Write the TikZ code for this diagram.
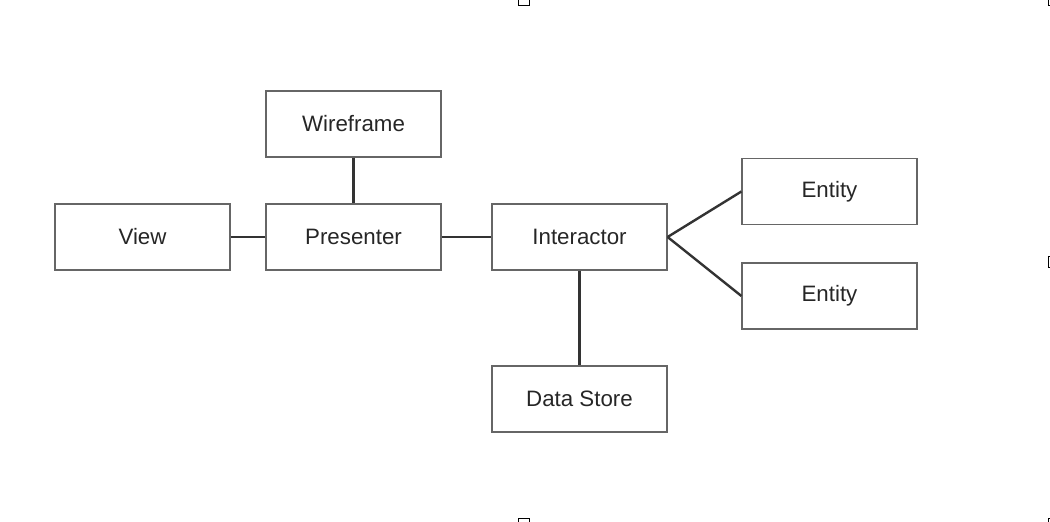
\documentclass[tikz,border=0pt]{standalone}
\usepackage{fontspec}
\setmainfont{Liberation Sans}
\usetikzlibrary{calc}
\tikzstyle{block}=[rectangle,draw=black!60,line width=1.2pt,minimum width=175pt,minimum height=66pt,inner sep=0pt,text=black!85,font=\fontsize{22.3}{26}\selectfont]
\tikzstyle{undirectededge} = [draw,line width=2.4pt,black!80]
\tikzstyle{handle} = [draw,line width=1pt]

\begin{document}
\begin{tikzpicture}[x=1pt,y=-1pt]

    \useasboundingbox (0,0) rectangle (1050,522);
    \clip (0,0) rectangle (1050,522);

    \foreach \x/\y/\name/\label in {353.5/124/wireframe/Wireframe, 142.5/237/view/View,
        353.5/237/presenter/Presenter, 579.5/237/interactor/Interactor,
        829.5/191.5/entitya/Entity, 829.5/296/entityb/Entity, 579.5/399/datastore/Data Store}
        \node[block] (\name) at (\x,\y) {\label};

    % Connect boxes
    \foreach \source/ \dest in {view/presenter, wireframe/presenter, presenter/interactor, interactor/datastore}
        \path[undirectededge] (\source) -- (\dest);
    \foreach \dest in {entitya, entityb}
        \path[undirectededge] (interactor.east) -- (\dest.west);

    % selection handles at the edges
    \draw[handle] (518.5,-6) rectangle (529.5,5.5);
    \draw[handle] (518.5,518.5) rectangle (529.5,530);
    \draw[handle] (1048,256.5) rectangle (1059,267.5);
    \draw[handle] (1048,-6) rectangle (1059,5.5);
    \draw[handle] (1048,518.5) rectangle (1059,530);

\end{tikzpicture}
\end{document}
